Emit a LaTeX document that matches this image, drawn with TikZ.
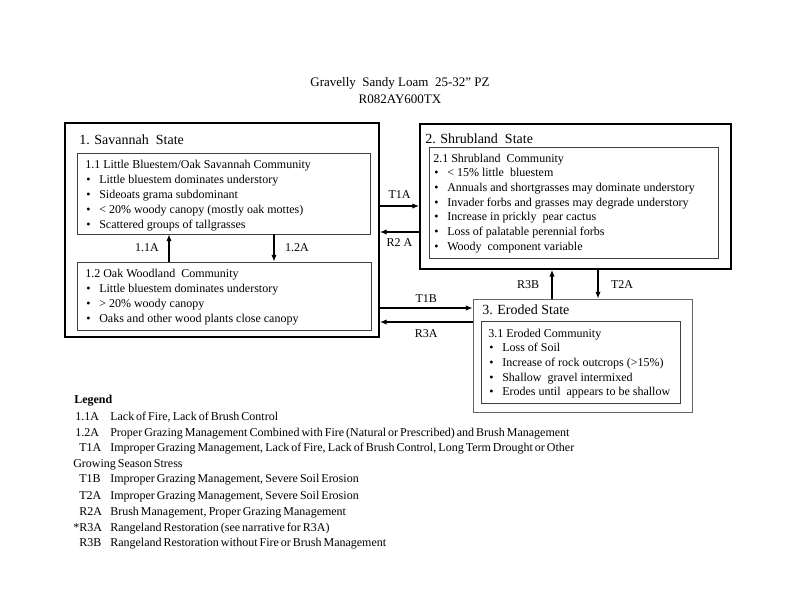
\documentclass[tikz,border=0pt]{standalone}
\usepackage{fontspec}
\setmainfont{Liberation Serif}
\usetikzlibrary{arrows.meta,fit}
\newlength\px \setlength\px{0.75pt}
\newcommand\bul{\makebox[14\px][l]{\hspace{1\px}\textbullet}}
\newcommand\lw[2]{\makebox[#1\px][s]{#2}}
\begin{document}
\begin{tikzpicture}[x=0.75pt,y=-0.75pt,
  outerbox/.style={draw=black,line width=1.5pt,inner sep=0pt},
  thinbox/.style={draw=black!60,line width=0.75pt,inner sep=0pt},
  innerbox/.style={draw=black!75,line width=0.7pt,inner sep=0pt},
  txt/.style={inner sep=0pt,anchor=base west,font=\fontsize{9}{11.25}\selectfont},
  txtb/.style={inner sep=0pt,anchor=base west,font=\fontsize{9}{11}\selectfont},
  head/.style={inner sep=0pt,anchor=base west,font=\fontsize{10.5}{12}\selectfont},
  lbl/.style={inner sep=0pt,font=\fontsize{9}{11}\selectfont},
  ttl/.style={inner sep=0pt,font=\fontsize{9.75}{12}\selectfont},
  leg/.style={inner sep=0pt,anchor=base west,font=\fontsize{9}{11}\selectfont},
  arr/.style={line width=0.8pt,-{Latex[length=5pt,width=4pt]}}]
\useasboundingbox (0,0) rectangle (800,600);

% title
\node[ttl] (title1) at (400,83) {Gravelly\ \ Sandy\ Loam\ \ 25-32” PZ};
\node[ttl] (title2) at (400,99) {R082AY600TX};

% boxes
\node[outerbox,fit={(65,123) (379,337)}] (b1) {};
\node[innerbox,fit={(77,153) (370,234)}] (b11) {};
\node[innerbox,fit={(77,262) (371,330)}] (b12) {};
\node[outerbox,fit={(420,124) (731,269)}] (b2) {};
\node[innerbox,fit={(429,147) (718,258)}] (b21) {};
\node[thinbox,fit={(473,299) (692,412)}] (b3) {};
\node[innerbox,fit={(481,321) (680,403)}] (b31) {};

% headers
\node[head] (h1) at (79,144) {1. Savannah\ \ State};
\node[head] (h2) at (425,143) {2. Shrubland\ \ State};
\node[head] (h3) at (482,314) {3. Eroded State};

% community texts
\node[txt] (t11) at (85,168) {\begin{tabular}[t]{@{}l@{}}
1.1 Little Bluestem/Oak Savannah Community\\
\bul Little bluestem dominates understory\\
\bul Sideoats grama subdominant\\
\bul < 20\% woody canopy (mostly oak mottes)\\
\bul Scattered groups of tallgrasses
\end{tabular}};
\node[txt] (t12) at (85,277) {\begin{tabular}[t]{@{}l@{}}
1.2 Oak Woodland\ \ Community\\
\bul Little bluestem dominates understory\\
\bul > 20\% woody canopy\\
\bul Oaks and other wood plants close canopy
\end{tabular}};
\node[txtb] (t21) at (433,162) {\begin{tabular}[t]{@{}l@{}}
2.1 Shrubland\ \ Community\\
\bul < 15\% little\ \ bluestem\\
\bul Annuals and shortgrasses may dominate understory\\
\bul Invader forbs and grasses may degrade understory\\
\bul Increase in prickly\ \ pear cactus\\
\bul Loss of palatable perennial forbs\\
\bul Woody\ \ component variable
\end{tabular}};
\node[txtb] (t31) at (488,337) {\begin{tabular}[t]{@{}l@{}}
3.1 Eroded Community\\
\bul Loss of Soil\\
\bul Increase of rock outcrops (>15\%)\\
\bul Shallow\ \ gravel intermixed\\
\bul Erodes until\ \ appears to be shallow
\end{tabular}};

% transitions
\draw[arr] (b1.east |- 0,206) -- node[lbl,yshift=8.25pt] (lT1A) {T1A} (b2.west |- 0,206);
\draw[arr] (b2.west |- 0,232) -- node[lbl,yshift=-8.25pt] (lR2A) {R2 A} (b1.east |- 0,232);
\draw[arr] (b12.north -| 169,0) -- node[lbl,xshift=-16.5pt] (l11A) {1.1A} (b11.south -| 169,0);
\draw[arr] (b11.south -| 274,0) -- node[lbl,xshift=17.25pt] (l12A) {1.2A} (b12.north -| 274,0);
\draw[arr] (b1.east |- 0,308) -- node[lbl,yshift=6.75pt] (lT1B) {T1B} (b3.west |- 0,308);
\draw[arr] (b3.west |- 0,322) -- node[lbl,yshift=-9pt] (lR3A) {R3A} (b1.east |- 0,322);
\draw[arr] (b3.north -| 552,0) -- node[lbl,xshift=-18pt] (lR3B) {R3B} (b2.south -| 552,0);
\draw[arr] (b2.south -| 598,0) -- node[lbl,xshift=18pt] (lT2A) {T2A} (b3.north -| 598,0);

% legend
\node[leg,font=\fontsize{9}{11}\selectfont\bfseries] (legend) at (74,403) {Legend};
\node[leg] (c1) at (75,420) {1.1A};
\node[leg] (d1) at (110,420) {\lw{166}{Lack of Fire, Lack of Brush Control}};
\node[leg] (c2) at (75,436) {1.2A};
\node[leg] (d2) at (110,436) {\lw{452}{Proper Grazing Management Combined with Fire (Natural or Prescribed) and Brush Management}};
\node[leg] (c3) at (79,451) {T1A};
\node[leg] (d3) at (110,451) {\lw{462}{Improper Grazing Management, Lack of Fire, Lack of Brush Control, Long Term Drought or Other}};
\node[leg] (d3b) at (73,467) {\lw{108}{Growing Season Stress}};
\node[leg] (c4) at (79,482) {T1B};
\node[leg] (d4) at (110,482) {\lw{243}{Improper Grazing Management, Severe Soil Erosion}};
\node[leg] (c5) at (79,499) {T2A};
\node[leg] (d5) at (110,499) {\lw{243}{Improper Grazing Management, Severe Soil Erosion}};
\node[leg] (c6) at (79,515) {R2A};
\node[leg] (d6) at (110,515) {\lw{228}{Brush Management, Proper Grazing Management}};
\node[leg] (c7) at (73,531) {*R3A};
\node[leg] (d7) at (110,531) {\lw{206}{Rangeland Restoration (see narrative for R3A)}};
\node[leg] (c8) at (79,546) {R3B};
\node[leg] (d8) at (110,546) {\lw{269}{Rangeland Restoration without Fire or Brush Management}};
\end{tikzpicture}
\end{document}
